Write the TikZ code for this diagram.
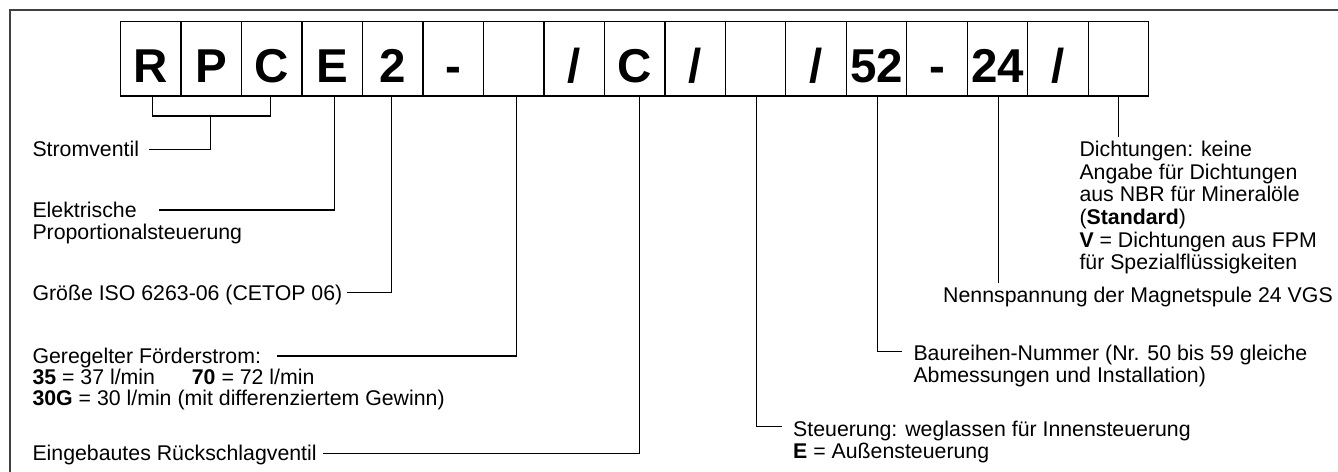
\documentclass[tikz,border=0pt]{standalone}
\usepackage{fontspec}
\setmainfont{Liberation Sans}
\begin{document}
\begin{tikzpicture}[x=1pt,y=-1pt,
  cell/.style={draw=black, line width=1.3pt, minimum width=60.47pt, minimum height=74.3pt,
    inner sep=0pt, text height=46.3pt, text depth=0pt,
    font=\fontsize{47.5}{50}\selectfont\bfseries},
  lbl/.style={anchor=base west, inner sep=0pt, align=left,
    font=\fontsize{21.3}{22.6}\selectfont},
  conn/.style={line width=1.3pt, draw=black},
  outer/.style={line width=2pt, draw=black!75}]
\useasboundingbox (0,0) rectangle (1338,471);
% outer frame (clipped at right and bottom)
\coordinate (fTR) at (1345,10);
\coordinate (fTL) at (10,10);
\coordinate (fBL) at (10,480);
\draw[outer] (fTR) -- (fTL) -- (fBL);
% code boxes
\foreach \t [count=\i from 0] in {R,P,C,E,2,-,{},/,C,/,{},/,52,-,24,/,{}}
  \node[cell] (b\i) at ({150.9+60.47*\i},58.85) {\t};
% labels (anchor base = baseline of the last line)
\node[lbl] (strom) at (32.3,156.7) {Stromventil};
\node[lbl] (elek) at (32.3,239.9) {Elektrische\\Proportionalsteuerung};
\node[lbl] (groesse) at (32.3,300) {Größe ISO 6263-06 (CETOP 06)};
\node[lbl, font=\fontsize{21.3}{21}\selectfont] (foerder) at (32.3,405) {Geregelter Förderstrom:\\\makebox[159.4pt][l]{\textbf{35} = 37 l/min}\textbf{70} = 72 l/min\\\textbf{30G} = 30 l/min (mit differenziertem Gewinn)};
\node[lbl] (rueck) at (32.3,460) {Eingebautes Rückschlagventil};
\node[lbl] (steu) at (793,458.6) {Steuerung: weglassen für Innensteuerung\\\textbf{E} = Außensteuerung};
\node[lbl] (baur) at (913.3,382.6) {Baureihen-Nummer (Nr. 50 bis 59 gleiche\\Abmessungen und Installation)};
\node[lbl] (nenn) at (943,302) {Nennspannung der Magnetspule 24 VGS};
\node[lbl] (dicht) at (1079.3,269.7) {Dichtungen: keine\\Angabe für Dichtungen\\aus NBR für Mineralöle\\(\textbf{Standard})\\\textbf{V} = Dichtungen aus FPM\\für Spezialflüssigkeiten};
% corner and end coordinates
\coordinate (kR) at (152.5,116);
\coordinate (kC) at (270.7,116);
\coordinate (kP) at (210.7,116);
\coordinate (kS) at (210.7,149.3);
\coordinate (eS) at (149,149.3);
\coordinate (kE) at (334.3,210);
\coordinate (eE) at (159.3,210);
\coordinate (kG) at (391.7,292.3);
\coordinate (eG) at (346.7,292.3);
\coordinate (kF) at (516.2,356);
\coordinate (eF) at (276.7,356);
\coordinate (kV) at (639.3,453.3);
\coordinate (eV) at (323,453.3);
\coordinate (kT) at (756.7,426.7);
\coordinate (eT) at (781.7,426.7);
\coordinate (kB) at (877.7,351.7);
\coordinate (eB) at (901.7,351.7);
\coordinate (kN) at (998.3,282.7);
\coordinate (kD) at (1118.7,136.7);
% connectors
\draw[conn] (b0.south -| kR) -- (kR) -- (kC) -- (b2.south -| kC);
\draw[conn] (kP) -- (kS) -- (eS);
\draw[conn] (b3.south -| kE) -- (kE) -- (eE);
\draw[conn] (b4.south -| kG) -- (kG) -- (eG);
\draw[conn] (b6.south -| kF) -- (kF) -- (eF);
\draw[conn] (b8.south -| kV) -- (kV) -- (eV);
\draw[conn] (b10.south -| kT) -- (kT) -- (eT);
\draw[conn] (b12.south -| kB) -- (kB) -- (eB);
\draw[conn] (b14.south -| kN) -- (kN);
\draw[conn] (b16.south -| kD) -- (kD);
\end{tikzpicture}
\end{document}
